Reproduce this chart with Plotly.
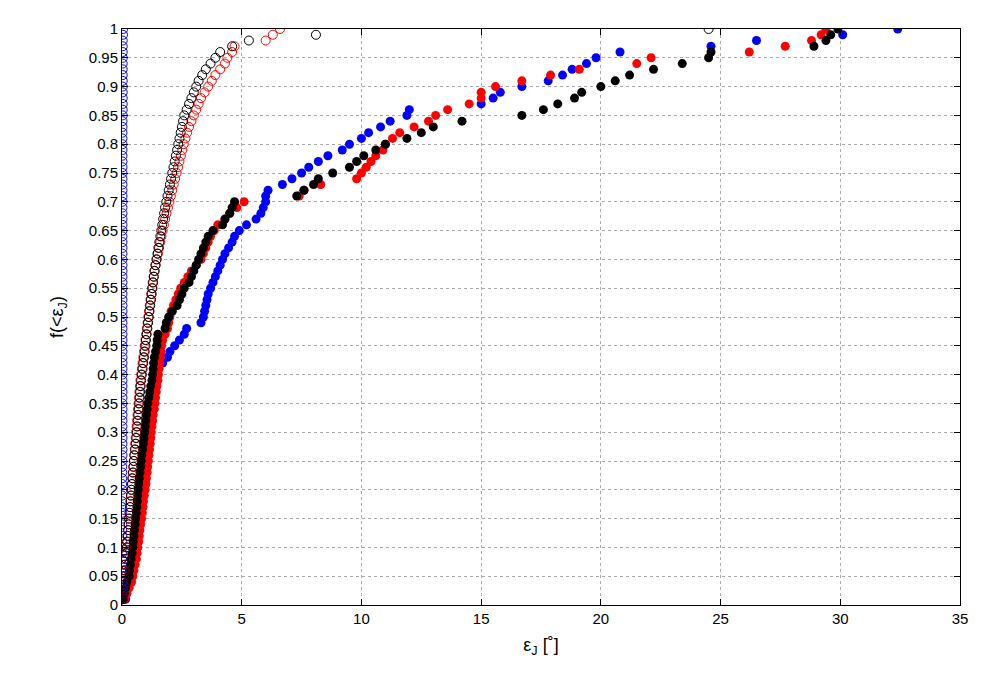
import plotly.graph_objects as go

# sorted sample values (empirical CDF: y = rank / N)
black_filled = [0.05,0.1,0.15,0.2,0.3,0.32,0.35,0.38,0.42,0.45,
 0.47,0.5,0.52,0.55,0.57,0.6,0.62,0.64,0.66,0.68,
 0.7,0.72,0.75,0.78,0.8,0.83,0.86,0.89,0.92,0.95,
 0.97,1.0,1.02,1.05,1.08,1.12,1.16,1.2,1.25,1.28,
 1.3,1.32,1.35,1.4,1.45,1.47,1.5,1.8,1.85,1.95,
 2.1,2.3,2.4,2.5,2.6,2.8,2.9,3.0,3.1,3.2,
 3.3,3.4,3.5,3.6,3.8,4.2,4.3,4.5,4.6,4.7,
 7.3,7.6,8.0,8.2,8.8,9.5,9.8,10.1,10.6,11.0,
 11.9,12.5,13.0,14.2,16.7,17.6,18.2,18.9,19.2,20.0,
 20.6,21.2,22.2,23.4,24.5,24.6,28.9,29.4,29.6,29.9]
red_filled = [0.1,0.2,0.3,0.4,0.45,0.5,0.55,0.6,0.63,0.66,
 0.7,0.72,0.75,0.78,0.82,0.85,0.88,0.9,0.93,0.97,
 1.0,1.02,1.05,1.07,1.1,1.12,1.15,1.18,1.2,1.22,
 1.25,1.28,1.3,1.35,1.38,1.4,1.43,1.46,1.5,1.52,
 1.55,1.58,1.6,1.63,1.65,1.7,1.8,1.9,1.95,2.0,
 2.05,2.15,2.25,2.35,2.45,2.6,2.75,2.9,3.1,3.3,
 3.4,3.5,3.6,3.7,3.85,4.0,4.3,4.5,4.8,5.1,
 7.4,7.6,8.3,9.8,10.0,10.2,10.4,10.6,10.9,11.0,
 11.3,11.6,12.2,12.8,13.1,13.6,14.5,15.0,15.0,15.6,
 16.7,17.9,19.1,21.5,22.1,26.2,27.7,28.8,29.2,29.4]
blue_filled = [0.15,0.2,0.25,0.3,0.35,0.38,0.4,0.43,0.46,0.5,
 0.52,0.55,0.58,0.6,0.63,0.66,0.68,0.7,0.73,0.76,
 0.8,0.83,0.85,0.88,0.91,0.95,0.98,1.0,1.03,1.06,
 1.1,1.13,1.16,1.2,1.24,1.28,1.3,1.35,1.4,1.45,
 1.5,1.7,1.9,2.0,2.2,2.4,2.6,2.7,3.3,3.4,
 3.45,3.5,3.55,3.6,3.7,3.8,3.9,4.0,4.1,4.2,
 4.3,4.45,4.6,4.7,4.9,5.2,5.6,5.8,5.9,6.0,
 6.0,6.1,6.7,7.1,7.5,7.8,8.2,8.6,9.2,9.5,
 10.0,10.3,10.8,11.2,11.9,12.0,15.0,15.5,15.8,16.7,
 17.8,18.4,18.8,19.4,19.8,20.8,24.6,26.5,30.1,32.4]
black_open = [0.02,0.04,0.06,0.08,0.1,0.12,0.14,0.16,0.18,0.2,
 0.22,0.24,0.26,0.28,0.3,0.32,0.34,0.36,0.38,0.4,
 0.42,0.44,0.46,0.48,0.5,0.52,0.55,0.58,0.6,0.62,
 0.64,0.66,0.68,0.7,0.72,0.74,0.76,0.78,0.8,0.83,
 0.86,0.89,0.92,0.95,0.98,1.0,1.03,1.06,1.09,1.12,
 1.15,1.18,1.21,1.24,1.27,1.3,1.33,1.36,1.4,1.44,
 1.48,1.52,1.56,1.6,1.64,1.68,1.72,1.76,1.8,1.85,
 1.9,1.95,2.0,2.05,2.1,2.15,2.2,2.25,2.3,2.35,
 2.4,2.45,2.5,2.55,2.6,2.7,2.8,2.9,3.0,3.1,
 3.2,3.35,3.5,3.7,3.9,4.1,4.6,5.3,8.1,24.5]
red_open = [0.01,0.03,0.05,0.07,0.09,0.11,0.13,0.15,0.17,0.19,
 0.21,0.23,0.25,0.27,0.29,0.31,0.33,0.35,0.37,0.39,
 0.41,0.43,0.45,0.47,0.49,0.51,0.53,0.55,0.57,0.59,
 0.61,0.63,0.65,0.67,0.69,0.71,0.73,0.75,0.77,0.8,
 0.83,0.86,0.89,0.92,0.95,0.98,1.01,1.04,1.07,1.1,
 1.13,1.16,1.19,1.22,1.25,1.28,1.32,1.36,1.4,1.45,
 1.5,1.55,1.6,1.65,1.7,1.75,1.8,1.86,1.92,1.98,
 2.04,2.1,2.16,2.22,2.28,2.34,2.4,2.46,2.52,2.58,
 2.65,2.72,2.8,2.9,3.0,3.1,3.2,3.3,3.45,3.6,
 3.75,3.9,4.1,4.3,4.4,4.6,4.7,6.0,6.3,6.6]
blue_open = [0.0,0.0,0.0,0.0,0.0,0.0,0.0,0.0,0.01,0.01,
 0.01,0.01,0.01,0.01,0.01,0.01,0.01,0.01,0.01,0.01,
 0.01,0.01,0.01,0.01,0.01,0.02,0.02,0.02,0.02,0.02,
 0.02,0.02,0.02,0.02,0.02,0.02,0.02,0.02,0.02,0.02,
 0.02,0.02,0.02,0.02,0.02,0.02,0.02,0.02,0.02,0.02,
 0.02,0.02,0.02,0.02,0.02,0.02,0.02,0.02,0.02,0.02,
 0.02,0.02,0.02,0.02,0.02,0.02,0.02,0.02,0.02,0.02,
 0.02,0.02,0.02,0.02,0.02,0.02,0.02,0.02,0.02,0.02,
 0.02,0.02,0.02,0.02,0.03,0.03,0.03,0.03,0.03,0.03,
 0.03,0.03,0.03,0.03,0.03,0.03,0.03,0.03,0.04,0.05]

y_ticks = [round(i * 0.05, 2) for i in range(21)]
y_labels = ["0"] + [("%g" % v) for v in y_ticks[1:]]

def cdf(xs):
    n = len(xs)
    return [(i + 1) / n for i in range(n)]

fig = go.Figure()
for xs, col in [(blue_filled, "#0000ff"), (red_filled, "#ff0000"), (black_filled, "#000000")]:
    fig.add_trace(go.Scatter(x=xs, y=cdf(xs), mode="markers",
                             marker=dict(color=col, size=9, line=dict(width=0))))
for xs, col in [(blue_open, "#0000ff"), (red_open, "#ff0000"), (black_open, "#000000")]:
    fig.add_trace(go.Scatter(x=xs, y=cdf(xs), mode="markers",
                             marker=dict(symbol="circle-open", color=col, size=9, line=dict(width=1))))

ax = dict(showline=True, linecolor="black", linewidth=1, mirror="ticks",
          ticks="inside", ticklen=6, tickcolor="black",
          showgrid=True, gridcolor="#aaaaaa", griddash="dot", gridwidth=1,
          zeroline=False, tickfont=dict(size=15, color="black"))
fig.update_layout(
    width=1000, height=700, showlegend=False,
    paper_bgcolor="white", plot_bgcolor="white",
    font=dict(family="Liberation Sans", size=15, color="black"),
    margin=dict(l=114, r=48, t=19, b=103),
    xaxis=dict(range=[0, 35], tickvals=list(range(0, 36, 5)),
               title=dict(text="ε<sub>J</sub> [˚]", standoff=12), **ax),
    yaxis=dict(range=[0, 1], tickvals=y_ticks, ticktext=y_labels,
               title=dict(text="f(<ε<sub>J</sub>)", standoff=20), **ax),
)
fig.write_html("out.html")
